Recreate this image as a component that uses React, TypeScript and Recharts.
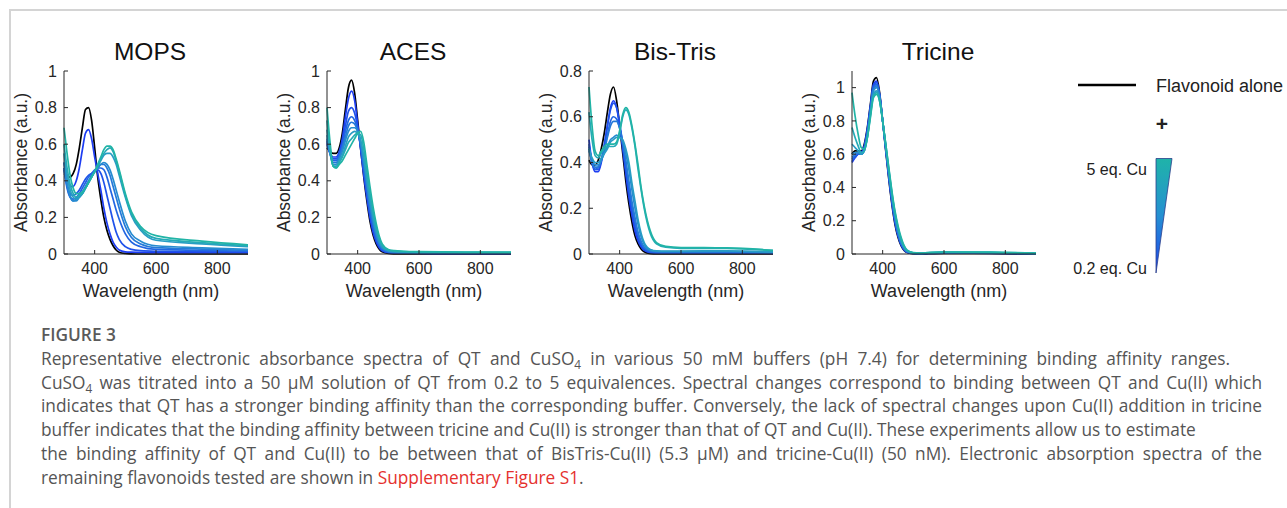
import React from 'react';
import { LineChart, Line, XAxis, YAxis } from 'recharts';

// wavelengths (nm) shared by every spectrum
const WAVELENGTHS = [300, 310, 320, 330, 340, 350, 360, 370, 380, 390, 400, 410, 420, 430, 440, 450, 460, 470, 480, 500, 520, 550, 600, 750, 900];
const X_TICKS = [400, 600, 800];
const CU_EQ = ['0.2', '0.4', '0.6', '0.8', '1', '1.5', '2', '5'];
const CU_COLORS = ['#1d3df2', '#1f52ea', '#2266e2', '#2479d9', '#268bd0', '#289cc5', '#25aab7', '#21b4a6'];

const MOPS_ALONE = [0.44, 0.43, 0.42, 0.44, 0.49, 0.58, 0.69, 0.79, 0.80, 0.73, 0.58, 0.42, 0.30, 0.20, 0.13, 0.08, 0.045, 0.022, 0.01, 0.003, 0.001, 0, 0, 0, 0];
const MOPS_CU = [
  [0.50, 0.42, 0.37, 0.37, 0.40, 0.47, 0.57, 0.66, 0.68, 0.63, 0.53, 0.44, 0.35, 0.25, 0.17, 0.11, 0.065, 0.038, 0.022, 0.012, 0.01, 0.009, 0.008, 0.008, 0.007],
  [0.47, 0.38, 0.33, 0.32, 0.33, 0.35, 0.38, 0.41, 0.43, 0.44, 0.45, 0.46, 0.44, 0.39, 0.32, 0.25, 0.18, 0.12, 0.08, 0.04, 0.025, 0.018, 0.015, 0.013, 0.011],
  [0.46, 0.36, 0.31, 0.30, 0.31, 0.33, 0.36, 0.39, 0.42, 0.44, 0.46, 0.47, 0.47, 0.46, 0.42, 0.36, 0.30, 0.24, 0.19, 0.11, 0.065, 0.04, 0.025, 0.02, 0.015],
  [0.47, 0.37, 0.31, 0.29, 0.30, 0.32, 0.34, 0.37, 0.40, 0.43, 0.45, 0.47, 0.49, 0.49, 0.47, 0.43, 0.37, 0.31, 0.25, 0.15, 0.09, 0.055, 0.035, 0.027, 0.02],
  [0.50, 0.39, 0.32, 0.29, 0.29, 0.31, 0.33, 0.36, 0.39, 0.42, 0.45, 0.47, 0.49, 0.50, 0.49, 0.46, 0.41, 0.35, 0.29, 0.18, 0.11, 0.07, 0.045, 0.034, 0.025],
  [0.55, 0.43, 0.35, 0.31, 0.30, 0.31, 0.33, 0.36, 0.39, 0.42, 0.45, 0.48, 0.51, 0.54, 0.55, 0.55, 0.53, 0.49, 0.43, 0.31, 0.21, 0.13, 0.075, 0.055, 0.04],
  [0.60, 0.47, 0.38, 0.33, 0.31, 0.32, 0.33, 0.36, 0.39, 0.42, 0.45, 0.48, 0.52, 0.55, 0.57, 0.58, 0.56, 0.51, 0.45, 0.32, 0.22, 0.14, 0.085, 0.062, 0.045],
  [0.69, 0.55, 0.43, 0.36, 0.33, 0.33, 0.34, 0.36, 0.39, 0.42, 0.45, 0.49, 0.53, 0.57, 0.59, 0.59, 0.57, 0.52, 0.46, 0.33, 0.23, 0.15, 0.10, 0.07, 0.05],
];

const ACES_ALONE = [0.58, 0.56, 0.55, 0.55, 0.58, 0.66, 0.79, 0.91, 0.95, 0.88, 0.73, 0.57, 0.42, 0.29, 0.18, 0.105, 0.057, 0.028, 0.012, 0.003, 0.001, 0, 0, 0, 0];
const ACES_CU = [
  [0.60, 0.55, 0.53, 0.53, 0.56, 0.63, 0.75, 0.85, 0.89, 0.84, 0.71, 0.57, 0.43, 0.31, 0.20, 0.12, 0.068, 0.035, 0.017, 0.007, 0.005, 0.004, 0.003, 0.002, 0.002],
  [0.61, 0.55, 0.52, 0.52, 0.55, 0.61, 0.70, 0.78, 0.80, 0.77, 0.69, 0.58, 0.45, 0.33, 0.22, 0.14, 0.08, 0.043, 0.022, 0.009, 0.006, 0.005, 0.004, 0.003, 0.003],
  [0.62, 0.55, 0.51, 0.51, 0.54, 0.59, 0.67, 0.73, 0.75, 0.73, 0.68, 0.59, 0.47, 0.35, 0.24, 0.155, 0.09, 0.05, 0.026, 0.011, 0.008, 0.006, 0.005, 0.004, 0.004],
  [0.63, 0.55, 0.50, 0.50, 0.53, 0.58, 0.64, 0.70, 0.72, 0.71, 0.67, 0.60, 0.49, 0.37, 0.26, 0.17, 0.10, 0.056, 0.03, 0.013, 0.009, 0.008, 0.006, 0.005, 0.005],
  [0.65, 0.55, 0.49, 0.49, 0.52, 0.56, 0.62, 0.67, 0.69, 0.69, 0.67, 0.61, 0.51, 0.39, 0.28, 0.19, 0.115, 0.065, 0.035, 0.016, 0.011, 0.009, 0.007, 0.006, 0.006],
  [0.68, 0.56, 0.48, 0.48, 0.51, 0.54, 0.59, 0.64, 0.66, 0.67, 0.66, 0.62, 0.53, 0.41, 0.30, 0.205, 0.13, 0.075, 0.04, 0.018, 0.013, 0.011, 0.009, 0.008, 0.007],
  [0.73, 0.58, 0.48, 0.47, 0.50, 0.53, 0.57, 0.61, 0.63, 0.65, 0.66, 0.65, 0.57, 0.45, 0.33, 0.23, 0.15, 0.088, 0.048, 0.022, 0.016, 0.013, 0.011, 0.009, 0.008],
  [0.80, 0.61, 0.48, 0.47, 0.49, 0.51, 0.54, 0.57, 0.60, 0.63, 0.66, 0.67, 0.61, 0.49, 0.37, 0.26, 0.17, 0.10, 0.055, 0.025, 0.018, 0.015, 0.013, 0.011, 0.01],
];

const BISTRIS_ALONE = [0.41, 0.39, 0.39, 0.41, 0.46, 0.53, 0.62, 0.70, 0.73, 0.67, 0.56, 0.44, 0.32, 0.22, 0.14, 0.08, 0.044, 0.022, 0.01, 0.002, 0, 0, 0, 0, 0];
const BISTRIS_CU = [
  [0.50, 0.40, 0.36, 0.36, 0.40, 0.47, 0.56, 0.64, 0.67, 0.64, 0.56, 0.46, 0.35, 0.25, 0.17, 0.10, 0.058, 0.031, 0.016, 0.006, 0.004, 0.004, 0.004, 0.004, 0.003],
  [0.48, 0.40, 0.37, 0.37, 0.41, 0.48, 0.56, 0.63, 0.66, 0.64, 0.57, 0.48, 0.37, 0.27, 0.19, 0.12, 0.07, 0.038, 0.02, 0.008, 0.006, 0.005, 0.005, 0.005, 0.004],
  [0.47, 0.40, 0.37, 0.38, 0.41, 0.46, 0.52, 0.58, 0.60, 0.59, 0.55, 0.48, 0.39, 0.30, 0.21, 0.14, 0.085, 0.047, 0.026, 0.01, 0.008, 0.007, 0.007, 0.007, 0.005],
  [0.46, 0.40, 0.38, 0.38, 0.41, 0.45, 0.51, 0.56, 0.58, 0.58, 0.55, 0.49, 0.41, 0.32, 0.23, 0.16, 0.095, 0.055, 0.03, 0.013, 0.01, 0.009, 0.009, 0.009, 0.006],
  [0.45, 0.41, 0.39, 0.39, 0.41, 0.44, 0.47, 0.50, 0.51, 0.52, 0.51, 0.49, 0.44, 0.37, 0.28, 0.20, 0.13, 0.075, 0.042, 0.017, 0.012, 0.011, 0.011, 0.012, 0.008],
  [0.46, 0.42, 0.40, 0.40, 0.42, 0.44, 0.46, 0.49, 0.50, 0.51, 0.51, 0.50, 0.46, 0.40, 0.31, 0.23, 0.15, 0.09, 0.05, 0.02, 0.014, 0.013, 0.013, 0.014, 0.009],
  [0.62, 0.50, 0.43, 0.42, 0.44, 0.46, 0.47, 0.47, 0.47, 0.48, 0.53, 0.60, 0.63, 0.61, 0.55, 0.47, 0.37, 0.28, 0.20, 0.09, 0.045, 0.03, 0.025, 0.025, 0.015],
  [0.73, 0.56, 0.45, 0.43, 0.45, 0.47, 0.48, 0.48, 0.48, 0.49, 0.54, 0.61, 0.64, 0.62, 0.56, 0.48, 0.39, 0.29, 0.21, 0.10, 0.05, 0.033, 0.028, 0.027, 0.016],
];

const TRICINE_ALONE = [0.60, 0.62, 0.62, 0.62, 0.66, 0.76, 0.90, 1.04, 1.06, 0.97, 0.80, 0.62, 0.45, 0.30, 0.18, 0.10, 0.05, 0.022, 0.009, 0.002, 0, 0.002, 0.004, 0.003, 0];
const TRICINE_CU = [
  [0.55, 0.58, 0.60, 0.61, 0.65, 0.75, 0.89, 1.02, 1.04, 0.96, 0.80, 0.63, 0.46, 0.31, 0.19, 0.11, 0.055, 0.025, 0.01, 0.003, 0.001, 0.003, 0.005, 0.004, 0.001],
  [0.56, 0.58, 0.60, 0.60, 0.64, 0.74, 0.88, 1.01, 1.03, 0.96, 0.80, 0.63, 0.47, 0.32, 0.20, 0.115, 0.06, 0.028, 0.012, 0.004, 0.002, 0.004, 0.006, 0.005, 0.002],
  [0.57, 0.59, 0.60, 0.60, 0.63, 0.73, 0.87, 1.00, 1.02, 0.95, 0.80, 0.64, 0.48, 0.33, 0.21, 0.12, 0.065, 0.03, 0.013, 0.004, 0.002, 0.005, 0.007, 0.006, 0.002],
  [0.58, 0.60, 0.61, 0.60, 0.63, 0.72, 0.86, 0.99, 1.01, 0.95, 0.80, 0.64, 0.48, 0.34, 0.22, 0.13, 0.07, 0.033, 0.015, 0.005, 0.003, 0.006, 0.008, 0.007, 0.003],
  [0.60, 0.61, 0.61, 0.60, 0.62, 0.71, 0.85, 0.98, 1.00, 0.94, 0.80, 0.65, 0.49, 0.35, 0.23, 0.14, 0.075, 0.036, 0.016, 0.005, 0.003, 0.006, 0.009, 0.008, 0.003],
  [0.66, 0.64, 0.62, 0.60, 0.62, 0.70, 0.84, 0.96, 0.98, 0.93, 0.80, 0.65, 0.50, 0.36, 0.24, 0.15, 0.08, 0.04, 0.018, 0.006, 0.004, 0.007, 0.01, 0.009, 0.004],
  [0.76, 0.70, 0.65, 0.61, 0.62, 0.70, 0.83, 0.95, 0.97, 0.92, 0.80, 0.66, 0.51, 0.37, 0.25, 0.16, 0.09, 0.045, 0.02, 0.007, 0.005, 0.008, 0.011, 0.01, 0.004],
  [0.97, 0.83, 0.72, 0.64, 0.63, 0.70, 0.82, 0.94, 0.96, 0.92, 0.80, 0.66, 0.52, 0.38, 0.26, 0.17, 0.10, 0.05, 0.023, 0.008, 0.006, 0.009, 0.012, 0.011, 0.005],
];

const INK = '#262626';
const FONT = '"Liberation Sans", Arial, Helvetica, sans-serif';

const panels = [
  { title: 'MOPS', left: 64, yMax: 1, yTicks: [0, 0.2, 0.4, 0.6, 0.8, 1], alone: MOPS_ALONE, cu: MOPS_CU },
  { title: 'ACES', left: 327, yMax: 1, yTicks: [0, 0.2, 0.4, 0.6, 0.8, 1], alone: ACES_ALONE, cu: ACES_CU },
  { title: 'Bis-Tris', left: 589, yMax: 0.8, yTicks: [0, 0.2, 0.4, 0.6, 0.8], alone: BISTRIS_ALONE, cu: BISTRIS_CU },
  { title: 'Tricine', left: 852, yMax: 1.1, yTicks: [0, 0.2, 0.4, 0.6, 0.8, 1], alone: TRICINE_ALONE, cu: TRICINE_CU },
];

const PLOT_W = 184;
const PLOT_TOP = 71;
const PLOT_BOTTOM = 254;

const buildRows = (alone: number[], cu: number[][]) =>
  WAVELENGTHS.map((wl, i) => {
    const row: Record<string, number> = { wl, alone: alone[i] };
    cu.forEach((s, k) => {
      row[`c${k}`] = s[i];
    });
    return row;
  });

const Panel = ({ panel }: { panel: (typeof panels)[number] }) => {
  const rows = buildRows(panel.alone, panel.cu);
  const yAxisW = 60;
  const marginLeft = 4;
  const chartW = marginLeft + yAxisW + PLOT_W + 14;
  const chartH = 310;
  const xAxisH = 50;
  return (
    <div style={{ position: 'absolute', left: panel.left - marginLeft - yAxisW, top: 0 }}>
      <LineChart
        width={chartW}
        height={chartH}
        data={rows}
        margin={{ top: PLOT_TOP, right: chartW - marginLeft - yAxisW - PLOT_W, left: marginLeft, bottom: chartH - PLOT_BOTTOM - xAxisH }}
      >
        <XAxis
          dataKey="wl"
          type="number"
          domain={[300, 900]}
          ticks={X_TICKS}
          height={xAxisH}
          tickSize={-4}
          tickMargin={13}
          stroke={INK}
          tick={{ fill: INK, fontSize: 16 }}
          label={{ value: 'Wavelength (nm)', position: 'insideBottom', offset: 7, dx: -5, fill: INK, fontSize: 18 }}
        />
        <XAxis xAxisId="top" dataKey="wl" type="number" orientation="top" domain={[300, 900]} ticks={X_TICKS} height={0} tickSize={-4} tick={false} stroke={INK} />
        <YAxis
          type="number"
          domain={[0, panel.yMax]}
          ticks={panel.yTicks}
          width={yAxisW}
          tickSize={-4}
          tickMargin={11}
          stroke={INK}
          tick={{ fill: INK, fontSize: 16 }}
          label={{ value: 'Absorbance (a.u.)', angle: -90, position: 'insideLeft', offset: 17, fill: INK, fontSize: 17.5, style: { textAnchor: 'middle' } }}
        />
        <YAxis yAxisId="right" type="number" orientation="right" domain={[0, panel.yMax]} ticks={panel.yTicks} width={0} tickSize={-4} tick={false} stroke={INK} />
        <Line xAxisId="top" yAxisId="right" dataKey="alone" stroke="none" dot={false} activeDot={false} isAnimationActive={false} />
        <Line type="monotone" dataKey="alone" name="Flavonoid alone" stroke="#000" strokeWidth={1.7} dot={false} isAnimationActive={false} />
        {CU_EQ.map((eq, k) => (
          <Line
            key={eq}
            type="monotone"
            dataKey={`c${k}`}
            name={`${eq} eq. Cu`}
            stroke={CU_COLORS[k]}
            strokeWidth={1.7}
            dot={false}
            isAnimationActive={false}
          />
        ))}
      </LineChart>
    </div>
  );
};

const sub4 = <sub style={{ fontSize: '0.68em', lineHeight: 0 }}>4</sub>;

// caption lines with the x where each one ends in the figure
const captionLines: { end: number | null; body: React.ReactNode }[] = [
  { end: 1230, body: <>Representative electronic absorbance spectra of QT and CuSO{sub4} in various 50 mM buffers (pH 7.4) for determining binding affinity ranges.</> },
  { end: 1262, body: <>CuSO{sub4} was titrated into a 50 µM solution of QT from 0.2 to 5 equivalences. Spectral changes correspond to binding between QT and Cu(II) which</> },
  { end: 1262, body: <>indicates that QT has a stronger binding affinity than the corresponding buffer. Conversely, the lack of spectral changes upon Cu(II) addition in tricine</> },
  { end: null, body: <>buffer indicates that the binding affinity between tricine and Cu(II) is stronger than that of QT and Cu(II). These experiments allow us to estimate</> },
  { end: 1262, body: <>the binding affinity of QT and Cu(II) to be between that of BisTris-Cu(II) (5.3 µM) and tricine-Cu(II) (50 nM). Electronic absorption spectra of the</> },
  { end: null, body: <>remaining flavonoids tested are shown in <span style={{ color: '#e5302d' }}>Supplementary Figure S1</span>.</> },
];

const CAPTION_LEFT = 41;

export default function App() {
  return (
    <div style={{ position: 'absolute', left: 0, top: 0, width: 1287, height: 508, overflow: 'hidden', background: '#fff', fontFamily: FONT }}>
      <div style={{ position: 'absolute', left: 9, top: 9, right: -2, bottom: -2, borderTop: '2px solid #d4d4d4', borderLeft: '2px solid #d4d4d4' }} />
      {panels.map((p) => (
        <Panel key={p.title} panel={p} />
      ))}
      <svg width={1287} height={300} style={{ position: 'absolute', left: 0, top: 0, pointerEvents: 'none' }}>
        <defs>
          <linearGradient id="cuRamp" x1="0" y1="0" x2="0" y2="1">
            <stop offset="0%" stopColor="#1fb3a9" />
            <stop offset="50%" stopColor="#2590d2" />
            <stop offset="100%" stopColor="#1e44ee" />
          </linearGradient>
        </defs>
        {panels.map((p) => (
          <text key={p.title} x={p.left + PLOT_W / 2 - 6} y={60} textAnchor="middle" fontSize={24.5} fill="#111">
            {p.title}
          </text>
        ))}
        <line x1={1078} x2={1136} y1={85} y2={85} stroke="#000" strokeWidth={2.6} />
        <text x={1156} y={92} fontSize={18} fill="#222">Flavonoid alone</text>
        <text x={1162} y={131} fontSize={21} fontWeight="bold" textAnchor="middle" fill="#222">+</text>
        <text x={1147} y={175} fontSize={16} textAnchor="end" fill="#222">5 eq. Cu</text>
        <text x={1147} y={274} fontSize={16} textAnchor="end" fill="#222">0.2 eq. Cu</text>
        <polygon points="1156,158.5 1172,158.5 1156,273" fill="url(#cuRamp)" stroke="#2b3f8c" strokeWidth={0.8} />
      </svg>
      <div
        style={{
          position: 'absolute',
          left: CAPTION_LEFT,
          top: 323,
          fontFamily: '"Open Sans", sans-serif',
          fontSize: 17.3,
          lineHeight: '23.8px',
          color: '#555',
          whiteSpace: 'nowrap',
        }}
      >
        <div style={{ fontWeight: 600, color: '#5a5a5a' }}>FIGURE 3</div>
        {captionLines.map((line, i) => (
          <div
            key={i}
            style={
              line.end
                ? { width: line.end - CAPTION_LEFT, textAlign: 'justify', textAlignLast: 'justify' }
                : undefined
            }
          >
            {line.body}
          </div>
        ))}
      </div>
    </div>
  );
}
